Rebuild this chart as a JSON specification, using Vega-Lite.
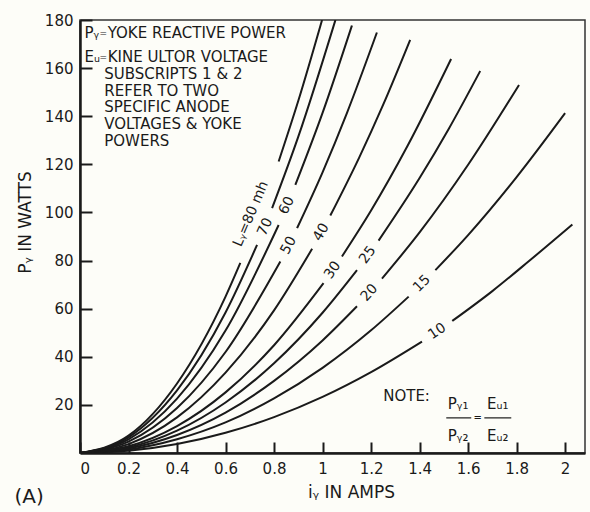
{
  "$schema": "https://vega.github.io/schema/vega-lite/v6.json",
  "width": 505,
  "height": 433,
  "autosize": {"type": "none"},
  "padding": {"left": 80, "top": 20, "right": 5, "bottom": 59},
  "background": "#fdfdf8",
  "config": {
    "font": "DejaVu Sans",
    "view": {"stroke": "#333", "strokeWidth": 1.5},
    "text": {"font": "DejaVu Sans", "color": "#1a1a1a"}
  },
  "data": {"values": [{}]},
  "datasets": {
    "curves": [
      {"L": 10, "seg": 1, "i": 0, "P": 0}, {"L": 10, "seg": 1, "i": 0.2, "P": 0.9}, {"L": 10, "seg": 1, "i": 0.4, "P": 3.7}, {"L": 10, "seg": 1, "i": 0.6, "P": 8.4}, {"L": 10, "seg": 1, "i": 0.8, "P": 14.9}, {"L": 10, "seg": 1, "i": 1.0, "P": 23.3}, {"L": 10, "seg": 1, "i": 1.2, "P": 33.6}, {"L": 10, "seg": 1, "i": 1.41, "P": 46.3},
      {"L": 10, "seg": 2, "i": 1.535, "P": 54.9}, {"L": 10, "seg": 2, "i": 1.7, "P": 67.3}, {"L": 10, "seg": 2, "i": 1.85, "P": 79.7}, {"L": 10, "seg": 2, "i": 2.03, "P": 95},
      {"L": 15, "seg": 1, "i": 0, "P": 0}, {"L": 15, "seg": 1, "i": 0.2, "P": 1.4}, {"L": 15, "seg": 1, "i": 0.4, "P": 5.7}, {"L": 15, "seg": 1, "i": 0.6, "P": 12.7}, {"L": 15, "seg": 1, "i": 0.8, "P": 22.7}, {"L": 15, "seg": 1, "i": 1.0, "P": 35.4}, {"L": 15, "seg": 1, "i": 1.2, "P": 51}, {"L": 15, "seg": 1, "i": 1.355, "P": 65},
      {"L": 15, "seg": 2, "i": 1.465, "P": 76}, {"L": 15, "seg": 2, "i": 1.6, "P": 90.6}, {"L": 15, "seg": 2, "i": 1.8, "P": 114.7}, {"L": 15, "seg": 2, "i": 2.0, "P": 141.3},
      {"L": 20, "seg": 1, "i": 0, "P": 0}, {"L": 20, "seg": 1, "i": 0.2, "P": 1.9}, {"L": 20, "seg": 1, "i": 0.4, "P": 7.5}, {"L": 20, "seg": 1, "i": 0.6, "P": 16.8}, {"L": 20, "seg": 1, "i": 0.8, "P": 30}, {"L": 20, "seg": 1, "i": 1.0, "P": 46.8}, {"L": 20, "seg": 1, "i": 1.142, "P": 61},
      {"L": 20, "seg": 2, "i": 1.245, "P": 72.5}, {"L": 20, "seg": 2, "i": 1.4, "P": 91.7}, {"L": 20, "seg": 2, "i": 1.6, "P": 119.8}, {"L": 20, "seg": 2, "i": 1.81, "P": 153},
      {"L": 25, "seg": 1, "i": 0, "P": 0}, {"L": 25, "seg": 1, "i": 0.2, "P": 2.3}, {"L": 25, "seg": 1, "i": 0.4, "P": 9.3}, {"L": 25, "seg": 1, "i": 0.6, "P": 21}, {"L": 25, "seg": 1, "i": 0.8, "P": 37.3}, {"L": 25, "seg": 1, "i": 1.0, "P": 58.3}, {"L": 25, "seg": 1, "i": 1.142, "P": 76},
      {"L": 25, "seg": 2, "i": 1.231, "P": 88.3}, {"L": 25, "seg": 2, "i": 1.4, "P": 114.3}, {"L": 25, "seg": 2, "i": 1.52, "P": 134.7}, {"L": 25, "seg": 2, "i": 1.65, "P": 158.8},
      {"L": 30, "seg": 1, "i": 0, "P": 0}, {"L": 30, "seg": 1, "i": 0.2, "P": 2.8}, {"L": 30, "seg": 1, "i": 0.4, "P": 11.2}, {"L": 30, "seg": 1, "i": 0.6, "P": 25.2}, {"L": 30, "seg": 1, "i": 0.8, "P": 44.8}, {"L": 30, "seg": 1, "i": 1.004, "P": 70.6},
      {"L": 30, "seg": 2, "i": 1.08, "P": 81.7}, {"L": 30, "seg": 2, "i": 1.2, "P": 100.8}, {"L": 30, "seg": 2, "i": 1.35, "P": 127.6}, {"L": 30, "seg": 2, "i": 1.53, "P": 163.8},
      {"L": 40, "seg": 1, "i": 0, "P": 0}, {"L": 40, "seg": 1, "i": 0.2, "P": 3.7}, {"L": 40, "seg": 1, "i": 0.4, "P": 14.8}, {"L": 40, "seg": 1, "i": 0.6, "P": 33.4}, {"L": 40, "seg": 1, "i": 0.8, "P": 59.3}, {"L": 40, "seg": 1, "i": 0.957, "P": 84.9},
      {"L": 40, "seg": 2, "i": 1.032, "P": 98.7}, {"L": 40, "seg": 2, "i": 1.15, "P": 122.6}, {"L": 40, "seg": 2, "i": 1.25, "P": 144.8}, {"L": 40, "seg": 2, "i": 1.361, "P": 171.7},
      {"L": 50, "seg": 1, "i": 0, "P": 0}, {"L": 50, "seg": 1, "i": 0.2, "P": 4.7}, {"L": 50, "seg": 1, "i": 0.4, "P": 18.7}, {"L": 50, "seg": 1, "i": 0.6, "P": 42}, {"L": 50, "seg": 1, "i": 0.826, "P": 79.6},
      {"L": 50, "seg": 2, "i": 0.895, "P": 93.5}, {"L": 50, "seg": 2, "i": 1.0, "P": 116.7}, {"L": 50, "seg": 2, "i": 1.1, "P": 141.2}, {"L": 50, "seg": 2, "i": 1.224, "P": 174.8},
      {"L": 60, "seg": 1, "i": 0, "P": 0}, {"L": 60, "seg": 1, "i": 0.2, "P": 5.7}, {"L": 60, "seg": 1, "i": 0.4, "P": 22.6}, {"L": 60, "seg": 1, "i": 0.6, "P": 50.9}, {"L": 60, "seg": 1, "i": 0.819, "P": 94.8},
      {"L": 60, "seg": 2, "i": 0.888, "P": 111.5}, {"L": 60, "seg": 2, "i": 1.0, "P": 141.4}, {"L": 60, "seg": 2, "i": 1.121, "P": 177.7},
      {"L": 70, "seg": 1, "i": 0, "P": 0}, {"L": 70, "seg": 1, "i": 0.2, "P": 6.5}, {"L": 70, "seg": 1, "i": 0.4, "P": 26}, {"L": 70, "seg": 1, "i": 0.6, "P": 58.4}, {"L": 70, "seg": 1, "i": 0.73, "P": 86.5},
      {"L": 70, "seg": 2, "i": 0.792, "P": 101.8}, {"L": 70, "seg": 2, "i": 0.9, "P": 131.5}, {"L": 70, "seg": 2, "i": 1.053, "P": 180},
      {"L": 80, "seg": 1, "i": 0, "P": 0}, {"L": 80, "seg": 1, "i": 0.2, "P": 7.2}, {"L": 80, "seg": 1, "i": 0.4, "P": 28.9}, {"L": 80, "seg": 1, "i": 0.6, "P": 65}, {"L": 80, "seg": 1, "i": 0.661, "P": 79},
      {"L": 80, "seg": 2, "i": 0.819, "P": 121.2}, {"L": 80, "seg": 2, "i": 0.9, "P": 146.4}, {"L": 80, "seg": 2, "i": 0.998, "P": 180}
    ]
  },
  "layer": [
    {
      "data": {"name": "curves"},
      "mark": {"type": "line", "interpolate": "monotone", "color": "#1a1a1a", "strokeWidth": 2, "clip": true},
      "encoding": {
        "x": {
          "field": "i", "type": "quantitative",
          "scale": {"domain": [0, 2.082], "nice": false, "zero": false},
          "axis": {
            "values": [0, 0.2, 0.4, 0.6, 0.8, 1, 1.2, 1.4, 1.6, 1.8, 2],
            "format": "~g",
            "title": "iᵧ IN AMPS",
            "titleFont": "DejaVu Sans", "titleFontSize": 17, "titleFontWeight": "normal", "titleColor": "#1a1a1a",
            "titlePadding": 8, "titleX": 271,
            "labelFont": "DejaVu Sans", "labelFontSize": 15, "labelColor": "#1a1a1a",
            "labelPadding": 19,
            "tickSize": -11, "tickWidth": 2, "tickColor": "#1a1a1a",
            "domainColor": "#1a1a1a", "domainWidth": 2.5,
            "grid": false
          }
        },
        "y": {
          "field": "P", "type": "quantitative",
          "scale": {"domain": [0, 180], "nice": false},
          "axis": {
            "values": [20, 40, 60, 80, 100, 120, 140, 160, 180],
            "title": "Pᵧ IN WATTS",
            "titleFont": "DejaVu Sans", "titleFontSize": 17, "titleFontWeight": "normal", "titleColor": "#1a1a1a",
            "titlePadding": 10, "titleY": 202,
            "labelFont": "DejaVu Sans", "labelFontSize": 15, "labelColor": "#1a1a1a",
            "labelPadding": 19,
            "tickSize": -12, "tickWidth": 2, "tickColor": "#1a1a1a",
            "domainColor": "#1a1a1a", "domainWidth": 2.5,
            "grid": false
          }
        },
        "detail": [{"field": "L"}, {"field": "seg"}],
        "order": {"field": "i", "type": "quantitative"}
      }
    },
    {"mark": {"type": "text", "text": "Lᵧ=80 mh", "angle": -67, "fontSize": 14, "align": "center", "baseline": "middle"}, "encoding": {"x": {"datum": 0.705}, "y": {"datum": 99.4}}},
    {"mark": {"type": "text", "text": "70", "angle": -66, "fontSize": 14, "align": "center", "baseline": "middle"}, "encoding": {"x": {"datum": 0.764}, "y": {"datum": 94}}},
    {"mark": {"type": "text", "text": "60", "angle": -64, "fontSize": 14, "align": "center", "baseline": "middle"}, "encoding": {"x": {"datum": 0.853}, "y": {"datum": 102.9}}},
    {"mark": {"type": "text", "text": "50", "angle": -62, "fontSize": 14, "align": "center", "baseline": "middle"}, "encoding": {"x": {"datum": 0.86}, "y": {"datum": 86.3}}},
    {"mark": {"type": "text", "text": "40", "angle": -60, "fontSize": 14, "align": "center", "baseline": "middle"}, "encoding": {"x": {"datum": 0.995}, "y": {"datum": 91.8}}},
    {"mark": {"type": "text", "text": "30", "angle": -56, "fontSize": 14, "align": "center", "baseline": "middle"}, "encoding": {"x": {"datum": 1.042}, "y": {"datum": 76}}},
    {"mark": {"type": "text", "text": "25", "angle": -54, "fontSize": 14, "align": "center", "baseline": "middle"}, "encoding": {"x": {"datum": 1.186}, "y": {"datum": 82.3}}},
    {"mark": {"type": "text", "text": "20", "angle": -48, "fontSize": 14, "align": "center", "baseline": "middle"}, "encoding": {"x": {"datum": 1.193}, "y": {"datum": 66.6}}},
    {"mark": {"type": "text", "text": "15", "angle": -45, "fontSize": 14, "align": "center", "baseline": "middle"}, "encoding": {"x": {"datum": 1.41}, "y": {"datum": 70.4}}},
    {"mark": {"type": "text", "text": "10", "angle": -34, "fontSize": 14, "align": "center", "baseline": "middle"}, "encoding": {"x": {"datum": 1.4725}, "y": {"datum": 50.5}}},
    {"mark": {"type": "text", "text": ["Pᵧ", "Eᵤ"], "lineHeight": 24, "fontSize": 15, "align": "left", "baseline": "middle"}, "encoding": {"x": {"datum": 0.0185}, "y": {"datum": 174.5}}},
    {"mark": {"type": "text", "text": ["=", "="], "lineHeight": 24, "fontSize": 9, "align": "left", "baseline": "middle"}, "encoding": {"x": {"datum": 0.08}, "y": {"datum": 174.5}}},
    {"mark": {"type": "text", "text": ["YOKE REACTIVE POWER", "KINE ULTOR VOLTAGE"], "lineHeight": 24, "fontSize": 15, "align": "left", "baseline": "middle"}, "encoding": {"x": {"datum": 0.114}, "y": {"datum": 174.5}}},
    {"mark": {"type": "text", "text": ["SUBSCRIPTS 1 & 2", "REFER TO TWO", "SPECIFIC ANODE", "VOLTAGES & YOKE", "POWERS"], "lineHeight": 16.8, "fontSize": 15, "align": "left", "baseline": "middle"}, "encoding": {"x": {"datum": 0.1}, "y": {"datum": 157.6}}},
    {"mark": {"type": "text", "text": "NOTE:", "fontSize": 15, "align": "left", "baseline": "middle"}, "encoding": {"x": {"datum": 1.25}, "y": {"datum": 23.5}}},
    {"mark": {"type": "text", "text": "Pᵧ₁", "fontSize": 15, "align": "center", "baseline": "middle"}, "encoding": {"x": {"datum": 1.559}, "y": {"datum": 20.5}}},
    {"mark": {"type": "text", "text": "Pᵧ₂", "fontSize": 15, "align": "center", "baseline": "middle"}, "encoding": {"x": {"datum": 1.559}, "y": {"datum": 7}}},
    {"mark": {"type": "text", "text": "Eᵤ₁", "fontSize": 15, "align": "center", "baseline": "middle"}, "encoding": {"x": {"datum": 1.722}, "y": {"datum": 20.5}}},
    {"mark": {"type": "text", "text": "Eᵤ₂", "fontSize": 15, "align": "center", "baseline": "middle"}, "encoding": {"x": {"datum": 1.722}, "y": {"datum": 7}}},
    {"mark": {"type": "text", "text": "=", "fontSize": 10, "align": "center", "baseline": "middle"}, "encoding": {"x": {"datum": 1.64}, "y": {"datum": 14.6}}},
    {"mark": {"type": "rule", "color": "#1a1a1a", "strokeWidth": 1.2}, "encoding": {"x": {"datum": 1.51}, "x2": {"datum": 1.613}, "y": {"datum": 14.6}}},
    {"mark": {"type": "rule", "color": "#1a1a1a", "strokeWidth": 1.2}, "encoding": {"x": {"datum": 1.667}, "x2": {"datum": 1.778}, "y": {"datum": 14.6}}},
    {"mark": {"type": "text", "text": "(A)", "fontSize": 20, "align": "left", "baseline": "middle"}, "encoding": {"x": {"datum": -0.27}, "y": {"datum": -18.3}}}
  ]
}
